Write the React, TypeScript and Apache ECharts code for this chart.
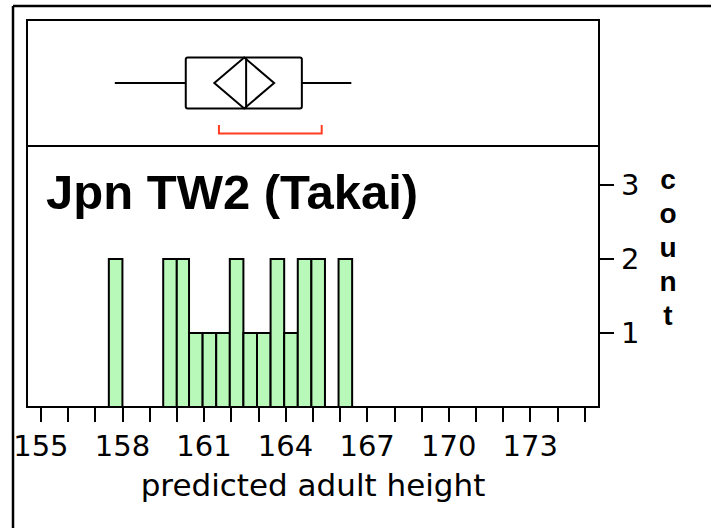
import React, { useEffect, useRef } from "react";
import * as echarts from "echarts";

// Histogram bins: [lower edge, upper edge, count]
const binLower = [157.5, 159.5, 160.0, 160.45, 160.95, 161.45, 161.95, 162.45, 162.95, 163.45, 163.95, 164.45, 164.95, 165.95];
const binUpper = [158.0, 160.0, 160.45, 160.95, 161.45, 161.95, 162.45, 162.95, 163.45, 163.95, 164.45, 164.95, 165.45, 166.45];
const binCounts = [2, 2, 2, 1, 1, 1, 2, 1, 1, 2, 1, 2, 2, 2];

// Outlier box plot summary: whisker low, Q1, median, Q3, whisker high
const boxStats = [157.72, 160.33, 162.55, 164.6, 166.42];
// Mean diamond: CI low, mean, CI high
const meanDiamond = [161.38, 162.48, 163.58];
// Shortest half bracket
const shortestHalf = [161.55, 165.33];

const xTickValues = [155, 156, 157, 158, 159, 160, 161, 162, 163, 164, 165, 166, 167, 168, 169, 170, 171, 172, 173, 174, 175];
const xLabelValues = [155, 158, 161, 164, 167, 170, 173];
const yTickValues = [1, 2, 3];

const groupTitle = "Jpn TW2 (Takai)";
const xTitle = "predicted adult height";
const yTitle = "count";

export default function App() {
  const ref = useRef<HTMLDivElement>(null);
  useEffect(() => {
    if (!ref.current) return;
    const chart = echarts.init(ref.current, null, { renderer: "svg" });
    const histData = binLower.map((lo, i) => [lo, binUpper[i], binCounts[i]]);
    const boxData = [[...boxStats, ...meanDiamond, ...shortestHalf]];
    const xMin = 154.49;
    const xMax = 175.53;
    const tickFont = "DejaVu Sans";
    chart.setOption({
      animation: false,
      backgroundColor: "#fff",
      grid: [
        { left: 27, right: 112, top: 146, bottom: 121, show: true, borderColor: "#000", borderWidth: 2, backgroundColor: "transparent" },
        { left: 27, right: 112, top: 20, bottom: 382, show: true, borderColor: "#000", borderWidth: 2, backgroundColor: "transparent" },
      ],
      xAxis: [
        {
          type: "value",
          gridIndex: 0,
          min: xMin,
          max: xMax,
          splitLine: { show: false },
          axisLine: { show: true, lineStyle: { color: "#000", width: 2 } },
          axisTick: { show: true, length: 15, lineStyle: { color: "#000", width: 2 }, customValues: xTickValues },
          axisLabel: { show: true, customValues: xLabelValues, color: "#000", fontFamily: tickFont, fontSize: 29, margin: 24 },
          name: xTitle,
          nameLocation: "middle",
          nameGap: 62,
          nameTextStyle: { color: "#000", fontFamily: tickFont, fontSize: 31 },
        },
        { type: "value", gridIndex: 1, min: xMin, max: xMax, show: false },
      ],
      yAxis: [
        {
          type: "value",
          gridIndex: 0,
          position: "right",
          min: 0,
          max: 3.53,
          splitLine: { show: false },
          axisLine: { show: true, lineStyle: { color: "#000", width: 2 } },
          axisTick: { show: true, length: 15, lineStyle: { color: "#000", width: 2 }, customValues: yTickValues },
          axisLabel: { show: true, customValues: yTickValues, color: "#000", fontFamily: tickFont, fontSize: 29, margin: 22 },
        },
        { type: "value", gridIndex: 1, min: 0, max: 1, show: false },
      ],
      graphic: [
        { type: "line", shape: { x1: 13, y1: 6, x2: 13, y2: 528 }, style: { stroke: "#000", lineWidth: 2.5 } },
        { type: "line", shape: { x1: 13, y1: 6, x2: 711, y2: 6 }, style: { stroke: "#000", lineWidth: 2.5 } },
        {
          type: "text",
          left: 46,
          top: 167,
          style: { text: groupTitle, fill: "#000", font: "bold 49px 'Liberation Sans', Arial, sans-serif" },
        },
        {
          type: "text",
          x: 668,
          y: 162,
          style: {
            text: yTitle.split("").join("\n"),
            fill: "#000",
            font: "bold 28px 'Liberation Sans', Arial, sans-serif",
            align: "center",
            verticalAlign: "top",
            lineHeight: 34,
          },
        },
      ],
      series: [
        {
          type: "custom",
          xAxisIndex: 0,
          yAxisIndex: 0,
          data: histData,
          encode: { x: [0, 1], y: 2 },
          renderItem: (params: any, api: any) => {
            const p0 = api.coord([api.value(0), 0]);
            const p1 = api.coord([api.value(1), api.value(2)]);
            return {
              type: "rect",
              shape: { x: p0[0], y: p1[1], width: p1[0] - p0[0], height: p0[1] - p1[1] },
              style: { fill: "#b8f8b8", stroke: "#000", lineWidth: 2 },
            };
          },
        },
        {
          type: "custom",
          xAxisIndex: 1,
          yAxisIndex: 1,
          data: boxData,
          renderItem: (params: any, api: any) => {
            const cy = api.coord([xMin, 0.5])[1];
            const px = (i: number) => api.coord([api.value(i), 0.5])[0];
            const h = 25.5;
            const blk = { stroke: "#000", lineWidth: 2, fill: "none" };
            const lo = px(0), q1 = px(1), med = px(2), q3 = px(3), hi = px(4);
            const ciLo = px(5), mean = px(6), ciHi = px(7);
            const sLo = px(8), sHi = px(9);
            return {
              type: "group",
              children: [
                { type: "line", shape: { x1: lo, y1: cy, x2: q1, y2: cy }, style: blk },
                { type: "line", shape: { x1: q3, y1: cy, x2: hi, y2: cy }, style: blk },
                { type: "rect", shape: { x: q1, y: cy - h, width: q3 - q1, height: 2 * h, r: 2 }, style: blk },
                { type: "polygon", shape: { points: [[ciLo, cy], [mean, cy - h], [ciHi, cy], [mean, cy + h]] }, style: blk },
                { type: "line", shape: { x1: med, y1: cy - h, x2: med, y2: cy + h }, style: blk },
                {
                  type: "polyline",
                  shape: { points: [[sLo, cy + 42], [sLo, cy + 50.5], [sHi, cy + 50.5], [sHi, cy + 42]] },
                  style: { stroke: "#ff3d21", lineWidth: 2, fill: "none" },
                },
              ],
            };
          },
        },
      ],
    });
    return () => chart.dispose();
  }, []);
  return <div ref={ref} style={{ position: "absolute", left: 0, top: 0, width: 711, height: 528 }} />;
}
